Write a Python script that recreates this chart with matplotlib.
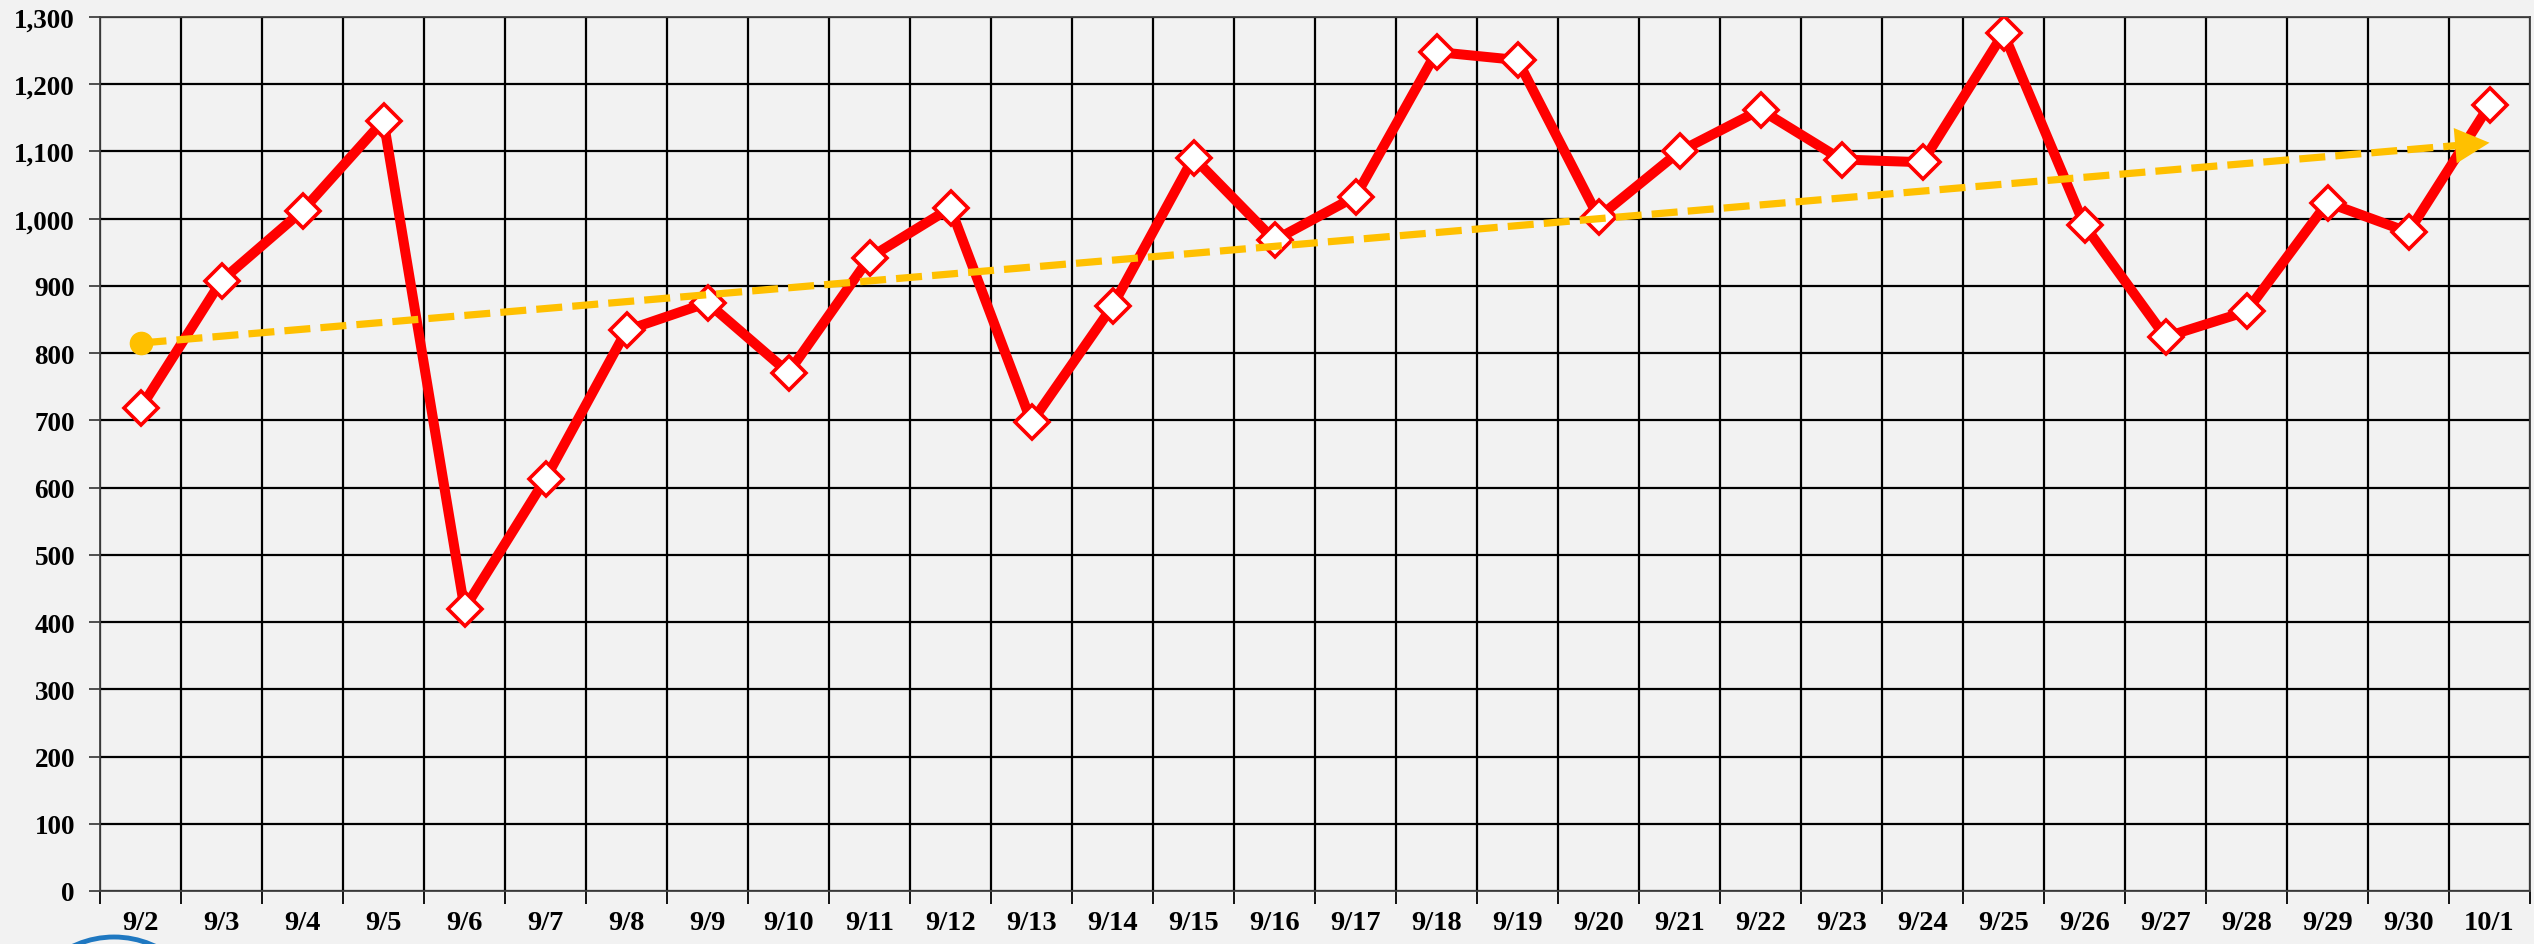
import numpy as np
import matplotlib
matplotlib.use('Agg')
import matplotlib.pyplot as plt
from matplotlib.patches import Ellipse, FancyArrowPatch

# daily values
dates = ['9/2', '9/3', '9/4', '9/5', '9/6', '9/7', '9/8', '9/9', '9/10', '9/11',
         '9/12', '9/13', '9/14', '9/15', '9/16', '9/17', '9/18', '9/19', '9/20', '9/21',
         '9/22', '9/23', '9/24', '9/25', '9/26', '9/27', '9/28', '9/29', '9/30', '10/1']
values = [718, 908, 1012, 1146, 420, 613, 834, 875, 771, 942,
          1016, 697, 870, 1091, 968, 1033, 1248, 1236, 1002, 1100,
          1162, 1088, 1084, 1276, 990, 824, 862, 1024, 980, 1169]
trend_ends = [815, 1113]   # trend arrow start / end value

yticks = list(range(0, 1301, 100))

plt.rcParams['font.family'] = ['Liberation Serif', 'DejaVu Serif']
plt.rcParams['font.weight'] = 'bold'

bg = '#f2f2f2'
W, H = 2534, 945
fig = plt.figure(figsize=(W / 100, H / 100), dpi=100, facecolor=bg)
ax = fig.add_axes([100 / W, 1 - 892 / H, 2430 / W, 874 / H])
ax.set_facecolor(bg)

x = np.arange(len(dates))
ax.plot(x, values, color='#ff0000', lw=7.2, marker='D', markersize=17,
        markerfacecolor='white', markeredgecolor='#ff0000', markeredgewidth=2.6,
        zorder=3, solid_joinstyle='miter')

# trend line with round start and arrow head
xt = [x[0], x[-1]]
ax.plot([xt[0], xt[1] - 0.3], [trend_ends[0], trend_ends[1] - 3.1], color='#ffc000',
        lw=5.2, dashes=(3.6, 1.4), zorder=4)
ax.plot(xt[0], trend_ends[0], 'o', color='#ffc000', markersize=16, zorder=4)
arr = FancyArrowPatch((xt[1] - 0.35, trend_ends[1] - 3.6), (xt[1], trend_ends[1]),
                      arrowstyle='-|>,head_length=1.65,head_width=0.85', mutation_scale=15,
                      color='#ffc000', lw=0, shrinkA=0, shrinkB=0, zorder=4)
ax.add_patch(arr)

ax.set_xlim(-0.5, len(dates) - 0.5)
ax.set_ylim(0, 1300)

# vertical grid at category borders
ax.set_xticks(np.arange(len(dates) + 1) - 0.5)
ax.set_xticklabels([])
ax.set_xticks(x, minor=True)
ax.set_xticklabels(dates, minor=True, fontsize=20.5, fontweight='bold')
ax.tick_params(axis='x', which='major', length=9, width=1.3, color='black', direction='out')
ax.tick_params(axis='x', which='minor', length=0, pad=14)
ax.set_yticks(yticks)
ax.set_yticklabels(['{:,}'.format(v) for v in yticks], fontsize=19.5, fontweight='bold')
ax.tick_params(axis='y', length=8, width=1.3, color='#404040', pad=10)

ax.grid(True, which='major', color='black', lw=1.6, zorder=1)
ax.set_axisbelow(True)
for s in ax.spines.values():
    s.set_color('#404040')
    s.set_linewidth(1.3)

# cut-off logo at bottom left
fig.patches.append(Ellipse((114 / W, 1 - 1034 / H), 192 / W, 192 / H, transform=fig.transFigure,
                           fill=False, ec='#1f78c1', lw=3.5, clip_on=False))

fig.savefig('out.png', dpi=100, facecolor=bg)
